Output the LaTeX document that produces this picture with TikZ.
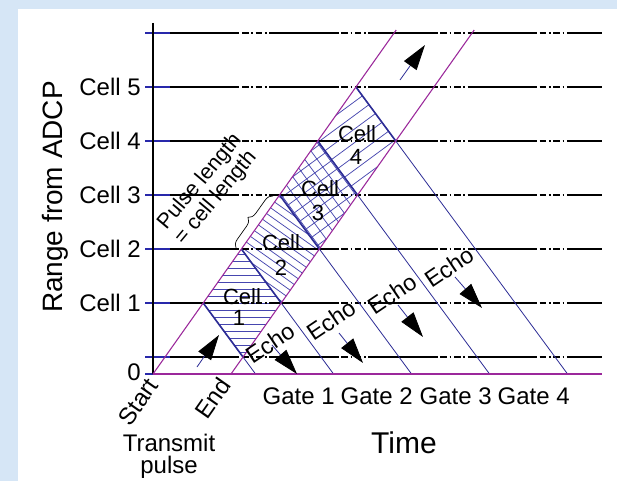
\documentclass[tikz,border=0pt]{standalone}
\usepackage{fontspec}
\setmainfont{Liberation Sans}
\usetikzlibrary{arrows.meta,decorations.pathreplacing,calc}

\definecolor{bgblue}{RGB}{214,230,246}
\definecolor{pulsecol}{RGB}{155,40,155}
\definecolor{echocol}{RGB}{45,45,150}
\definecolor{hatchcol}{RGB}{70,70,175}
\definecolor{tickcol}{RGB}{40,40,170}

\tikzset{
  rangeline/.style={black, line width=0.9pt,
    dash pattern=on 52pt off 2pt on 5pt off 2pt on 1.2pt off 2pt on 5pt off 2pt on 1.2pt off 2pt},
  rangetick/.style={tickcol, line width=0.9pt},
  pulseedge/.style={pulsecol, line width=0.8pt},
  echoline/.style={echocol, line width=0.6pt},
  cellwall/.style={echocol, line width=1.2pt},
  hatch/.style={hatchcol, line width=0.55pt},
  motion/.style={echocol, line width=0.6pt, -{Triangle[length=19pt,width=11.5pt,color=black]}},
  lbl/.style={font=\fontsize{18}{20}\selectfont, inner sep=0pt},
  inlbl/.style={font=\fontsize{16.5}{18}\selectfont, inner sep=0pt},
  echolbl/.style={font=\fontsize{17.5}{18}\selectfont, inner sep=0pt, rotate=34},
  biglbl/.style={font=\fontsize{21}{24}\selectfont, inner sep=0pt},
}

\begin{document}
\begin{tikzpicture}[x=0.75pt,y=-0.75pt]
\useasboundingbox (0,0) rectangle (617,481);
\fill[bgblue] (0,0) rectangle (617,481);
\fill[white] (18,9) rectangle (617,481);

% range levels: h = 17 + 54k above the transducer
\foreach \k in {0,...,6}{
  \pgfmathsetmacro\hh{17+54*\k}
  \coordinate (S\k) at ({153+0.707*\hh},{374-\hh});
  \coordinate (E\k) at ({231+0.707*\hh},{374-\hh});
  \coordinate (T\k) at (145,{374-\hh});
  \coordinate (U\k) at (170,{374-\hh});
  \coordinate (R\k) at (602,{374-\hh});
}
% echoes reach the transducer
\foreach \k in {1,...,5}{
  \pgfmathsetmacro\hh{17+54*\k}
  \coordinate (G\k) at ({153+1.4444*\hh},374);
}
\coordinate (O) at (153,374);
\coordinate (Oend) at (231,374);
\coordinate (Z0) at (145,374);
\coordinate (Zr) at (602,374);
\coordinate (Atop) at (153,23);
\coordinate (Stop) at ({153+0.707*344},30);
\coordinate (Etop) at ({231+0.707*344},30);

% hatching of the depth cells
\begin{scope}
  \clip (S1) -- (S2) -- (E1) -- (E0) -- cycle;
  \foreach \i in {-14,...,14}
    \draw[hatch] ($(S1)!0.5!(E1)+(-100,\i*7)$) -- ++(200,0);
\end{scope}
\begin{scope}
  \clip (S2) -- (S3) -- (E2) -- (E1) -- cycle;
  \foreach \i in {-16,...,16}
    \draw[hatch] ($(S2)!0.5!(E2)+({\i*7*0.577-100*0.8165},{-\i*7*0.8165-100*0.577})$) -- ++(163.3,115.4);
\end{scope}
\begin{scope}
  \clip (S3) -- (S4) -- (E3) -- (E2) -- cycle;
  \foreach \i in {-10,...,10}{
    \draw[hatch] ($(S3)!0.5!(E3)+({\i*10*0.593-100*0.805},{\i*10*0.805+100*0.593})$) -- ++(161,-118.6);
    \draw[hatch] ($(S3)!0.5!(E3)+({\i*10*0.805-100*0.593},{-\i*10*0.593-100*0.805})$) -- ++(118.6,161);
  }
\end{scope}
\begin{scope}
  \clip (S4) -- (S5) -- (E4) -- (E3) -- cycle;
  \foreach \i in {-10,...,10}
    \draw[hatch] ($(S4)!0.5!(E4)+({\i*11*0.593-100*0.805},{\i*11*0.805+100*0.593})$) -- ++(161,-118.6);
\end{scope}

% range lines and ticks
\foreach \k in {0,...,6}{
  \draw[rangetick] (T\k) -- (U\k);
  \draw[rangeline] (U\k) -- (R\k);
}
\draw[rangetick] (Z0) -- (O);
\draw[black, line width=1pt] (Atop) -- (O);

% echoes
\foreach \k in {1,...,5}
  \draw[echoline] (S\k) -- (G\k);
\draw[cellwall] (S1) -- (E0);
\draw[cellwall] (S2) -- (E1);
\draw[cellwall] (S3) -- (E2);
\draw[cellwall] (S4) -- (E3);
\draw[cellwall] (S5) -- (E4);

% transmitted pulse
\draw[pulseedge] (O) -- (Stop);
\draw[pulseedge] (Oend) -- (Etop);
\draw[pulsecol, line width=1pt] (O) -- (Zr);

% axis labels
\node[lbl, anchor=east] (c1) at (141,303) {Cell 1};
\node[lbl, anchor=east] (c2) at (141,249) {Cell 2};
\node[lbl, anchor=east] (c3) at (141,195) {Cell 3};
\node[lbl, anchor=east] (c4) at (141,141) {Cell 4};
\node[lbl, anchor=east] (c5) at (141,87) {Cell 5};
\node[lbl, anchor=east] (zero) at (141,372) {0};
\node[biglbl, rotate=90] (yaxis) at (55,197) {Range from ADCP};
\node[biglbl, font=\fontsize{22.5}{24}\selectfont] (xaxis) at (404,443) {Time};
\node[lbl] (tx1) at (169,443) {Transmit};
\node[lbl] (tx2) at (169,467) {pulse};
\node[lbl, rotate=55] (st) at (138,402) {Start};
\node[lbl, rotate=55] (en) at (213,398) {End};
\node[lbl, anchor=east] (g1) at (335,396) {Gate 1};
\node[lbl, anchor=east] (g2) at (413,396) {Gate 2};
\node[lbl, anchor=east] (g3) at (492,396) {Gate 3};
\node[lbl, anchor=east] (g4) at (570,396) {Gate 4};

% cell labels
\node[inlbl] (cl1) at (242,297) {Cell};
\node[inlbl] (cn1) at (239,318) {1};
\node[inlbl] (cl2) at (281,243) {Cell};
\node[inlbl] (cn2) at (281,268) {2};
\node[inlbl] (cl3) at (320,189) {Cell};
\node[inlbl] (cn3) at (318,213) {3};
\node[inlbl] (cl4) at (357,134) {Cell};
\node[inlbl] (cn4) at (356,157) {4};

% echo labels
\node[echolbl] (e1) at (270,343) {Echo};
\node[echolbl] (e2) at (331,320) {Echo};
\node[echolbl] (e3) at (392,294) {Echo};
\node[echolbl] (e4) at (449,267) {Echo};

% pulse length note
\node[font=\fontsize{16}{16}\selectfont, inner sep=0pt, rotate=50] (pl1) at (200,182) {Pulse length};
\node[font=\fontsize{16}{16}\selectfont, inner sep=0pt, rotate=50] (pl2) at (216,198) {= cell length};
\coordinate (Bb) at (236,248);
\coordinate (Bt) at (273,196);
\draw[black, line width=0.5pt, decorate, decoration={brace, amplitude=6pt}] (Bb) -- (Bt);

% direction arrows
\coordinate (a1s) at (197,367); \coordinate (a1t) at (219,335);
\coordinate (a2s) at (400,80);  \coordinate (a2t) at (425,45);
\coordinate (b1s) at (272,345); \coordinate (b1t) at (297,374);
\coordinate (b2s) at (339,333); \coordinate (b2t) at (363,363);
\coordinate (b3s) at (398,305); \coordinate (b3t) at (423,337);
\coordinate (b4s) at (455,277); \coordinate (b4t) at (482,308);
\draw[motion] (a1s) -- (a1t);
\draw[motion] (a2s) -- (a2t);
\draw[motion] (b1s) -- (b1t);
\draw[motion] (b2s) -- (b2t);
\draw[motion] (b3s) -- (b3t);
\draw[motion] (b4s) -- (b4t);
\end{tikzpicture}
\end{document}
